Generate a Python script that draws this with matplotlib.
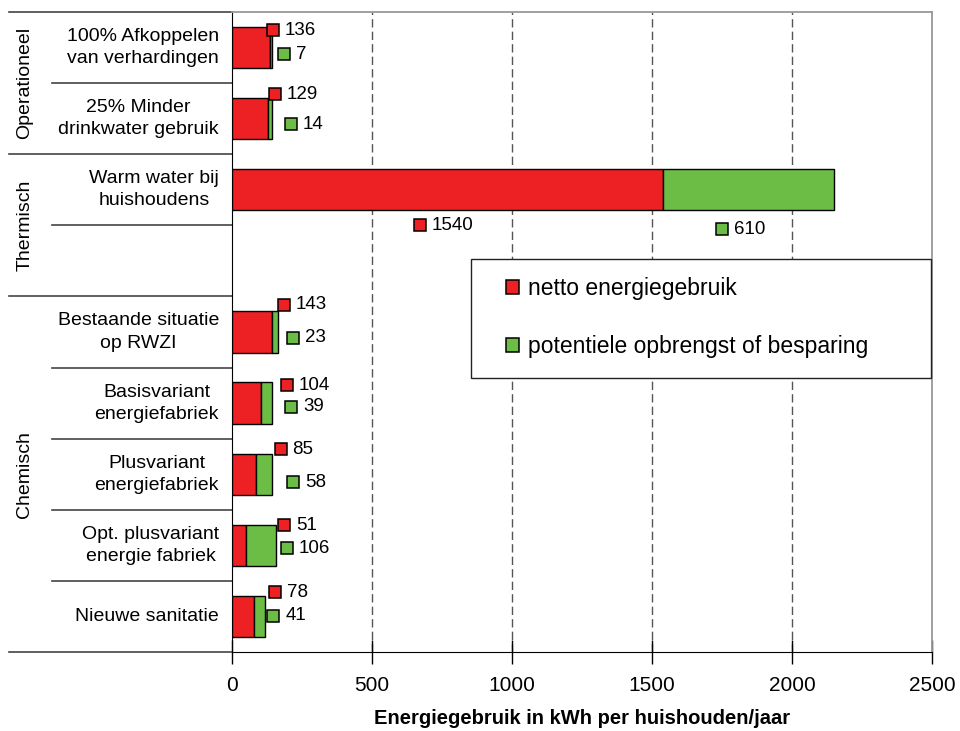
import matplotlib
matplotlib.use("Agg")
import matplotlib.pyplot as plt
import matplotlib.transforms as transforms
from matplotlib.patches import Rectangle
import numpy as np

plt.rcParams['font.family'] = ['Liberation Sans', 'DejaVu Sans']

# groups on the left, with the number of rows each one takes
group_names = ["Operationeel", "Thermisch", "Chemisch"]
group_rows = [2, 2, 5]

# scenarios per group (Thermisch keeps one empty row under it)
categories = [
    ["100% Afkoppelen\nvan verhardingen", "25% Minder\ndrinkwater gebruik"],
    ["Warm water bij\nhuishoudens"],
    ["Bestaande situatie\nop RWZI", "Basisvariant\nenergiefabriek",
     "Plusvariant\nenergiefabriek", "Opt. plusvariant\nenergie fabriek",
     "Nieuwe sanitatie"],
]

# kWh per huishouden per jaar
netto = [136, 129, 1540, 143, 104, 85, 51, 78]
besparing = [7, 14, 610, 23, 39, 58, 106, 41]

xticks = [0, 500, 1000, 1500, 2000, 2500]

# pixel offsets of the value labels, measured from the end of each bar
red_offsets = [(1, -17.5), (3, -24.5), (-414, 35.5), (5.5, -27.5),
               (15, -18), (8.5, -25), (8, -20), (10, -24)]
green_offsets = [(12, 6.5), (19, 5.5), (-112, 39.5), (15, 6),
                 (19, 3.5), (21, 8), (11, 3), (8, -0.5)]

RED = "#ED2024"
GREEN = "#6BBD45"

# row number of every scenario
rows = []
start = 0
for n, cats in zip(group_rows, categories):
    rows += [start + i for i in range(len(cats))]
    start += n
n_rows = start
labels = [c for cats in categories for c in cats]

fig = plt.figure(figsize=(9.6, 7.31), dpi=100)
W, H = 960, 731
ax = fig.add_axes([232 / W, 1 - 652 / H, 700 / W, 640 / H])

netto_a = np.array(netto)
bes_a = np.array(besparing)
ax.barh(rows, netto_a, height=0.58, color=RED, edgecolor="black", linewidth=1, zorder=3)
ax.barh(rows, bes_a, left=netto_a, height=0.58, color=GREEN, edgecolor="black",
        linewidth=1, zorder=3)

ax.set_ylim(n_rows - 0.5, -0.5)
ax.set_xlim(0, 2500)
ax.set_yticks([])
ax.set_xticks(xticks)
ax.set_xticklabels([str(t) for t in xticks], fontsize=15)
ax.tick_params(axis="x", direction="inout", length=17, width=1, pad=9)

ax.xaxis.grid(True, color="#555555", linestyle=(0, (6, 3)), linewidth=1)
gl = ax.xaxis.get_gridlines()
gl[0].set_visible(False)
gl[-1].set_visible(False)
ax.set_axisbelow(True)

for side in ["top", "right"]:
    ax.spines[side].set_color("#999999")
    ax.spines[side].set_linewidth(1.3)
ax.spines["left"].set_color("black")
ax.spines["bottom"].set_color("black")

ax.set_xlabel("Energiegebruik in kWh per huishouden/jaar", fontsize=14.5,
              fontweight="bold", labelpad=10)


def value_label(x, y, text, color, dx, dy):
    tr = transforms.offset_copy(ax.transData, fig=fig, x=dx, y=-dy, units="dots")
    ax.plot([x], [y], marker="s", ms=8.5, mfc=color, mec="black", mew=1.1,
            transform=tr, clip_on=False, zorder=6)
    tr2 = transforms.offset_copy(ax.transData, fig=fig, x=dx + 12, y=-dy, units="dots")
    ax.text(x, y, str(text), transform=tr2, va="center", ha="left", fontsize=13.5,
            zorder=6)


for i, r in enumerate(rows):
    end = netto[i] + besparing[i]
    value_label(end, r, netto[i], RED, *red_offsets[i])
    value_label(end, r, besparing[i], GREEN, *green_offsets[i])

# table on the left with the group and scenario names
blend = transforms.blended_transform_factory(ax.transAxes, ax.transData)
x_outer = (9 - 232) / 700
x_inner = (52 - 232) / 700
start = 0
group_bounds = [-0.5]
for n in group_rows:
    start += n
    group_bounds.append(start - 0.5)
for b in group_bounds:
    ax.plot([x_outer, 0], [b, b], color="#444444", lw=1.2, transform=blend, clip_on=False)
for g0, g1 in zip(group_bounds[:-1], group_bounds[1:]):
    for b in np.arange(g0 + 1, g1):
        ax.plot([x_inner, 0], [b, b], color="#444444", lw=1.2, transform=blend,
                clip_on=False)
for name, g0, g1 in zip(group_names, group_bounds[:-1], group_bounds[1:]):
    ax.text((25 - 232) / 700, (g0 + g1) / 2, name, rotation=90, ha="center",
            va="center", fontsize=14, transform=blend)
for lab, r in zip(labels, rows):
    ax.text((219 - 232) / 700, r, lab, ha="right", va="center", multialignment="center",
            fontsize=14, linespacing=1.4, transform=blend)

# legend with its own white frame over the grid
ax.add_patch(Rectangle((471 / W, 1 - 378 / H), 460 / W, 119 / H, transform=fig.transFigure,
                       facecolor="white", edgecolor="#222222", lw=1, zorder=4,
                       clip_on=False))
handles = [Rectangle((0, 0), 1, 1, facecolor=RED, edgecolor="black", lw=1.1),
           Rectangle((0, 0), 1, 1, facecolor=GREEN, edgecolor="black", lw=1.1)]
leg = ax.legend(handles, ["netto energiegebruik", "potentiele opbrengst of besparing"],
                loc="center left", bbox_to_anchor=(506 / W, 1 - 317.5 / H),
                bbox_transform=fig.transFigure, frameon=False, fontsize=16.5,
                handlelength=0.56, handleheight=0.56, handletextpad=0.42,
                labelspacing=1.5, borderpad=0, borderaxespad=0)
leg.set_zorder(5)

fig.savefig("out.png", dpi=100)
